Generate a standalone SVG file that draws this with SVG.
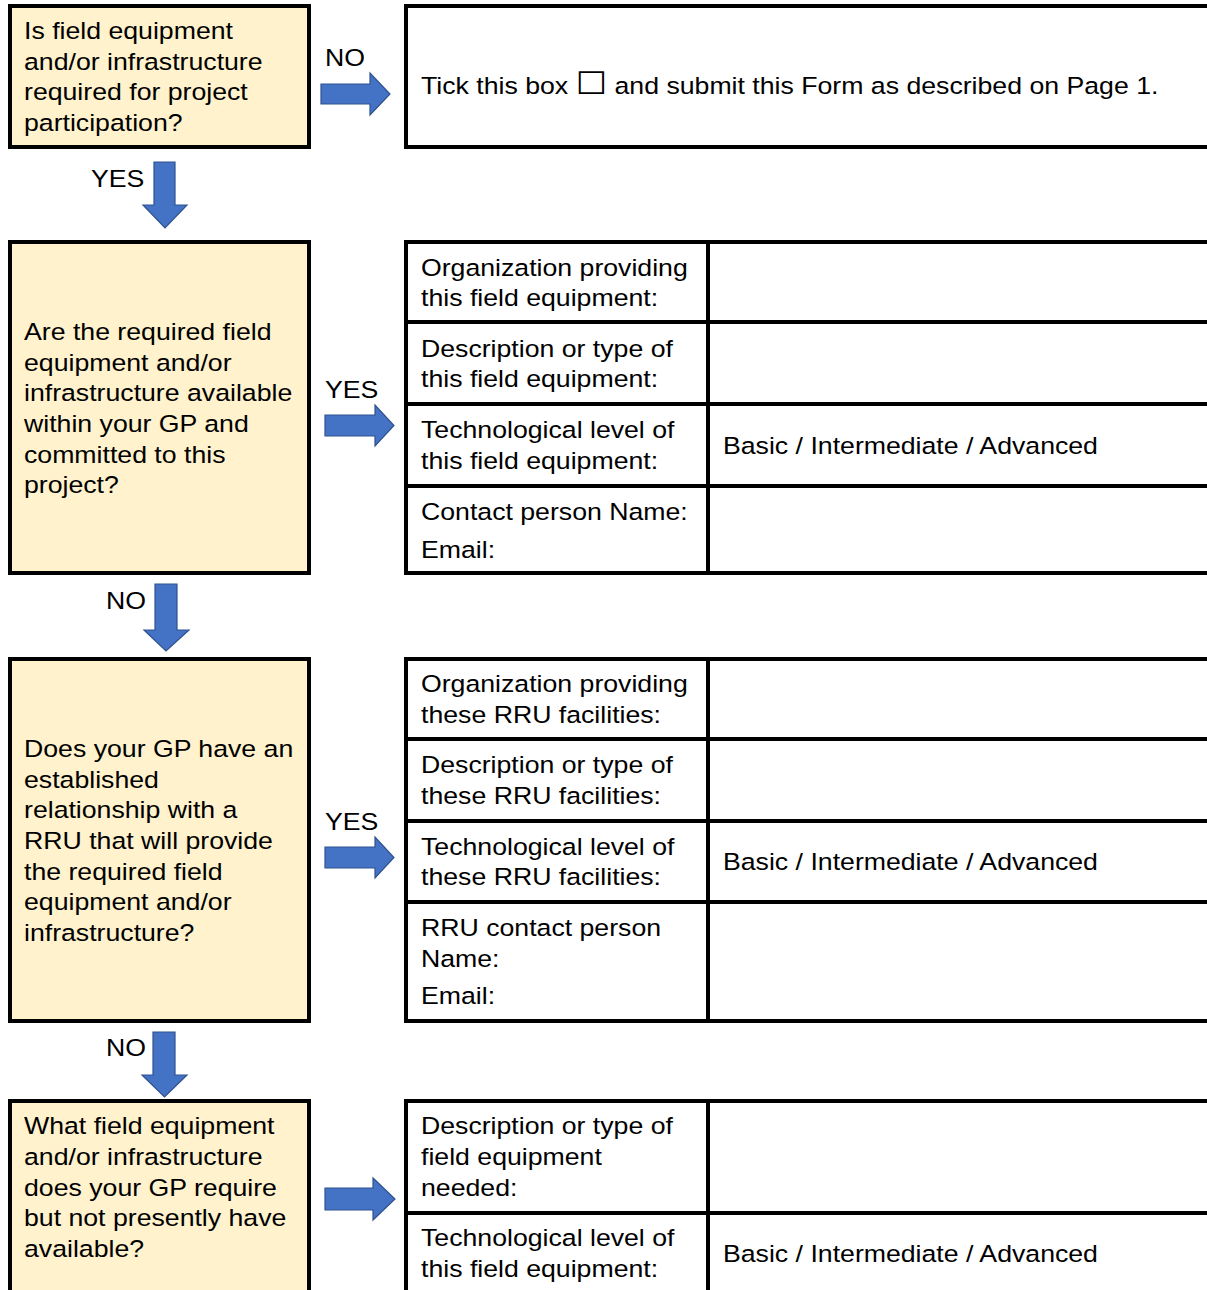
<svg xmlns="http://www.w3.org/2000/svg" width="1207" height="1290" viewBox="0 0 1207 1290">
<style>
.q{fill:#FFF2CC;stroke:#000;stroke-width:4}
.ln{stroke:#000;stroke-width:4;fill:none}
.ar{fill:#4472C4;stroke:#2F528F;stroke-width:1.2}
text{font-family:"Liberation Sans",Arial,sans-serif;font-size:23.5px;fill:#000}
.sym{font-family:"DejaVu Sans",sans-serif;font-size:31px}
</style>
<rect width="1207" height="1290" fill="#fff"/>

<g id="q1">
<rect class="q" x="10" y="6" width="299" height="141"/>
<g transform="translate(24 0) scale(1.135 1)"><text><tspan x="0" y="39">Is field equipment</tspan><tspan x="0" y="70">and/or infrastructure</tspan><tspan x="0" y="100">required for project</tspan><tspan x="0" y="131">participation?</tspan></text></g>
</g>

<g id="t1">
<path class="ln" d="M1212 6 H406 V147 H1212"/>
<g transform="translate(421 0) scale(1.135 1)"><text y="94">Tick this box <tspan class="sym">☐</tspan> and submit this Form as described on Page 1.</text></g>
</g>

<g id="q2">
<rect class="q" x="10" y="242" width="299" height="331"/>
<g transform="translate(24 0) scale(1.135 1)"><text><tspan x="0" y="340">Are the required field</tspan><tspan x="0" y="371">equipment and/or</tspan><tspan x="0" y="401">infrastructure available</tspan><tspan x="0" y="432">within your GP and</tspan><tspan x="0" y="463">committed to this</tspan><tspan x="0" y="493">project?</tspan></text></g>
</g>

<g id="t2">
<path class="ln" d="M1212 242 H406 V573 H1212 M406 322 H1212 M406 404 H1212 M406 486 H1212 M708 242 V573"/>
<g transform="translate(421 0) scale(1.135 1)"><text><tspan x="0" y="276">Organization providing</tspan><tspan x="0" y="306">this field equipment:</tspan><tspan x="0" y="357">Description or type of</tspan><tspan x="0" y="387">this field equipment:</tspan><tspan x="0" y="438">Technological level of</tspan><tspan x="0" y="469">this field equipment:</tspan><tspan x="0" y="520">Contact person Name:</tspan><tspan x="0" y="558">Email:</tspan></text></g>
<g transform="translate(723 0) scale(1.135 1)"><text x="0" y="454">Basic / Intermediate / Advanced</text></g>
</g>

<g id="q3">
<rect class="q" x="10" y="659" width="299" height="362"/>
<g transform="translate(24 0) scale(1.135 1)"><text><tspan x="0" y="757">Does your GP have an</tspan><tspan x="0" y="788">established</tspan><tspan x="0" y="818">relationship with a</tspan><tspan x="0" y="849">RRU that will provide</tspan><tspan x="0" y="880">the required field</tspan><tspan x="0" y="910">equipment and/or</tspan><tspan x="0" y="941">infrastructure?</tspan></text></g>
</g>

<g id="t3">
<path class="ln" d="M1212 659 H406 V1021 H1212 M406 739 H1212 M406 821 H1212 M406 902 H1212 M708 659 V1021"/>
<g transform="translate(421 0) scale(1.135 1)"><text><tspan x="0" y="692">Organization providing</tspan><tspan x="0" y="723">these RRU facilities:</tspan><tspan x="0" y="773">Description or type of</tspan><tspan x="0" y="804">these RRU facilities:</tspan><tspan x="0" y="855">Technological level of</tspan><tspan x="0" y="885">these RRU facilities:</tspan><tspan x="0" y="936">RRU contact person</tspan><tspan x="0" y="967">Name:</tspan><tspan x="0" y="1004">Email:</tspan></text></g>
<g transform="translate(723 0) scale(1.135 1)"><text x="0" y="870">Basic / Intermediate / Advanced</text></g>
</g>

<g id="q4">
<path class="q" d="M10 1300 V1101 H309 V1300"/>
<g transform="translate(24 0) scale(1.135 1)"><text><tspan x="0" y="1134">What field equipment</tspan><tspan x="0" y="1165">and/or infrastructure</tspan><tspan x="0" y="1196">does your GP require</tspan><tspan x="0" y="1226">but not presently have</tspan><tspan x="0" y="1257">available?</tspan></text></g>
</g>

<g id="t4">
<path class="ln" d="M1212 1101 H406 V1300 M406 1213 H1212 M708 1101 V1300"/>
<g transform="translate(421 0) scale(1.135 1)"><text><tspan x="0" y="1134">Description or type of</tspan><tspan x="0" y="1165">field equipment</tspan><tspan x="0" y="1196">needed:</tspan><tspan x="0" y="1246">Technological level of</tspan><tspan x="0" y="1277">this field equipment:</tspan></text></g>
<g transform="translate(723 0) scale(1.135 1)"><text x="0" y="1262">Basic / Intermediate / Advanced</text></g>
</g>

<g id="connectors">
<polygon class="ar" points="321,84 370,84 370,73 390,94 370,115 370,104 321,104"/>
<polygon class="ar" points="154,162 175,162 175,205 187,205 165,228 143,205 154,205"/>
<polygon class="ar" points="325,415 375,415 375,405 394,425.5 375,446 375,436 325,436"/>
<polygon class="ar" points="155,584 177,584 177,630 189,630 166,651 144,630 155,630"/>
<polygon class="ar" points="325,847 375,847 375,837 394,857.5 375,878 375,868 325,868"/>
<polygon class="ar" points="153,1032 175,1032 175,1075 187,1075 164.5,1097 142,1075 153,1075"/>
<polygon class="ar" points="325,1188 373,1188 373,1178 395,1199 373,1220 373,1210 325,1210"/>
<g transform="translate(325 0) scale(1.135 1)"><text x="0" y="66">NO</text></g>
<g transform="translate(91 0) scale(1.135 1)"><text x="0" y="187">YES</text></g>
<g transform="translate(325 0) scale(1.135 1)"><text x="0" y="398">YES</text></g>
<g transform="translate(106 0) scale(1.135 1)"><text x="0" y="609">NO</text></g>
<g transform="translate(325 0) scale(1.135 1)"><text x="0" y="830">YES</text></g>
<g transform="translate(106 0) scale(1.135 1)"><text x="0" y="1056">NO</text></g>
</g>
</svg>
